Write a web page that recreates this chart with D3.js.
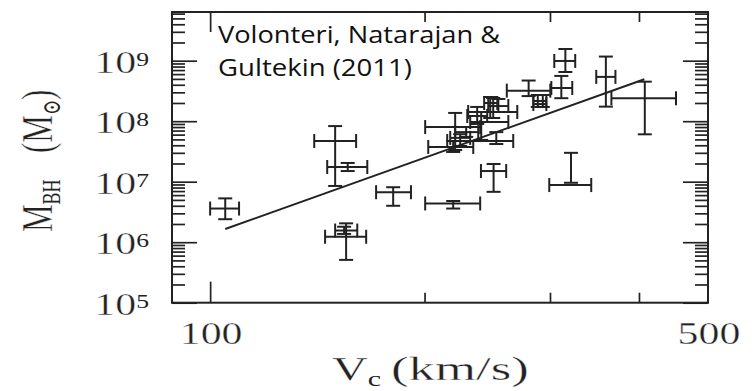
<!DOCTYPE html>
<html>
<head>
<meta charset="utf-8">
<script src="https://cdn.jsdelivr.net/npm/d3@7"></script>
<style>
  html, body { margin: 0; padding: 0; background: #fff; }
  svg { display: block; }
  .math { stroke: #fff; stroke-width: 0.35px; paint-order: normal; }
  .math tspan.sub { stroke: none; }
</style>
</head>
<body>
<div id="chart"></div>
<script>
// ── Data ─────────────────────────────────────────────────────────────────
// circular velocity (km/s): centre, low end, high end of the error bar
const vc   = [105.0, 149.8, 156.0, 155.2, 154.2, 180.7, 219.4, 250.0, 321.1, 315.3, 311.2, 359.4, 407.6,
              280.0, 288.4, 293.1, 220.8, 219.4, 240.2, 228.8, 249.7, 252.2, 247.3, 253.9, 224.4, 237.1];
const vcLo = [100.0, 140.0, 146.0, 145.0, 149.8, 171.0, 200.4, 240.0, 299.3, 304.2, 301.3, 348.4, 365.9,
              260.9, 284.3, 284.3, 200.4, 202.4, 231.8, 220.8, 230.3, 215.2, 242.5, 245.7, 217.3, 229.6];
const vcHi = [109.8, 160.3, 166.2, 165.6, 160.9, 191.4, 239.4, 260.4, 342.8, 325.5, 322.4, 370.7, 450.9,
              300.3, 296.5, 296.5, 239.4, 234.1, 262.2, 237.9, 269.9, 266.4, 253.0, 262.2, 231.8, 244.9];
// black hole mass (solar masses): centre, lower end, upper end
const mbh   = [3.6e6, 4.7e7, 1.75e7, 1.23e6, 1.56e6, 6.7e6, 4.37e6, 1.5e7, 8.8e6, 9.9e8, 3.54e8, 5.4e8, 2.39e8,
               3.2e8, 2.16e8, 1.92e8, 8.0e7, 3.75e7, 9.7e7, 6.6e7, 1.42e8, 4.7e7, 2.0e8, 1.78e8, 5.3e7, 1.22e8];
const mbhLo = [2.4e6, 8.5e6, 1.5e7, 5.1e5, 1.37e6, 4.0e6, 3.6e6, 6.8e6, 9.6e6, 6.5e8, 2.4e8, 1.74e8, 6.07e7,
               2.6e8, 1.72e8, 1.72e8, 3.34e7, 3.1e7, 4.9e7, 5.5e7, 1.13e8, 4.2e7, 1.13e8, 1.42e8, 3.9e7, 9.0e7];
const mbhHi = [5.3e6, 8.3e7, 2.04e7, 2.05e6, 1.8e6, 8.1e6, 4.8e6, 1.96e7, 3.0e7, 1.56e9, 5.6e8, 1.17e9, 4.5e8,
               4.7e8, 2.71e8, 2.71e8, 1.37e8, 4.7e7, 1.42e8, 8.0e7, 2.42e8, 6.6e7, 2.51e8, 2.33e8, 6.1e7, 1.72e8];

// fitted relation, end points
const fitVc  = [105, 407];
const fitMbh = [1.65e6, 4.93e8];

// axes
const xDomain     = [88.4, 500];
const yDomain     = [1e5, 6.38e9];
const xMajorTicks = [100];
const xMinorTicks = [200, 300, 400];
const xLabels     = [100, 500];
const yMajorTicks = [1e5, 1e6, 1e7, 1e8, 1e9];
const yExponents  = ["5", "6", "7", "8", "9"];

const credit = ["Volonteri, Natarajan &", "Gultekin (2011)"];

// ── Layout ───────────────────────────────────────────────────────────────
const W = 754, H = 391;
const pl = 172, pr = 708, pt = 12, pb = 302.7;
const ink = "#222";
const serif = '"Liberation Serif", "DejaVu Serif", serif';
const stretch = 1.35;   // the original figure is stretched sideways

const x = d3.scaleLog().domain(xDomain).range([pl, pr]);
const y = d3.scaleLog().domain(yDomain).range([pb, pt]);

const svg = d3.select("#chart").append("svg")
  .attr("width", W).attr("height", H)
  .style("background", "#fff");

// minor y ticks: 2..9 x 10^n inside the domain
const yMinorTicks = [];
for (let e = 5; e <= 9; e++) {
  for (let k = 2; k <= 9; k++) {
    const v = k * Math.pow(10, e);
    if (v < yDomain[1]) yMinorTicks.push(v);
  }
}

function ticks(axisFn, scale, vals, size, tx, ty) {
  svg.append("g")
    .attr("transform", `translate(${tx},${ty})`)
    .call(axisFn(scale).tickValues(vals).tickSize(-size).tickFormat(""))
    .call(a => a.select(".domain").remove())
    .call(a => a.selectAll("line").attr("stroke", ink).attr("stroke-width", 1.7));
}

ticks(d3.axisLeft,   y, yMajorTicks, 25, pl, 0);
ticks(d3.axisLeft,   y, yMinorTicks, 13, pl, 0);
ticks(d3.axisRight,  y, yMajorTicks, 25, pr, 0);
ticks(d3.axisRight,  y, yMinorTicks, 13, pr, 0);
ticks(d3.axisBottom, x, xMajorTicks, 21, 0, pb);
ticks(d3.axisBottom, x, xMinorTicks, 10, 0, pb);
ticks(d3.axisTop,    x, xMajorTicks, 20, 0, pt);
ticks(d3.axisTop,    x, xMinorTicks, 10, 0, pt);

// frame
svg.append("rect")
  .attr("x", pl).attr("y", pt).attr("width", pr - pl).attr("height", pb - pt)
  .attr("fill", "none").attr("stroke", ink).attr("stroke-width", 2);

// ── Tick labels ──────────────────────────────────────────────────────────
yMajorTicks.forEach((v, i) => {
  const t = svg.append("text").attr("class", "math")
    .attr("transform", `translate(149,${y(v) + 12}) scale(${stretch},1)`)
    .attr("text-anchor", "end")
    .attr("font-family", serif).attr("font-size", 31).attr("fill", ink);
  t.append("tspan").text("10");
  t.append("tspan").attr("class", "sub").attr("font-size", 19).attr("dy", -7).text(yExponents[i]);
});

xLabels.forEach(v => {
  svg.append("text").attr("class", "math")
    .attr("transform", `translate(${x(v) + 1},344) scale(${stretch},1)`)
    .attr("text-anchor", "middle")
    .attr("font-family", serif).attr("font-size", 31).attr("fill", ink)
    .text(v);
});

// ── Axis titles ──────────────────────────────────────────────────────────
const xt = svg.append("text").attr("class", "math")
  .attr("transform", `translate(332,380) scale(1.5,1)`)
  .attr("font-family", serif).attr("font-size", 33).attr("fill", ink);
xt.append("tspan").text("V");
xt.append("tspan").attr("class", "sub").attr("font-size", 20).attr("dy", 6).text("c");

svg.append("text").attr("class", "math")
  .attr("transform", `translate(391,380) scale(1.6,1)`)
  .attr("font-family", serif).attr("font-size", 33).attr("fill", ink)
  .text("(km/s)");

const yt1 = svg.append("text").attr("class", "math")
  .attr("transform", `translate(52,232) scale(1.4,1) rotate(-90)`)
  .attr("font-family", serif).attr("font-size", 31).attr("fill", ink);
yt1.append("tspan").text("M");
yt1.append("tspan").attr("class", "sub").attr("font-size", 18).attr("dy", 6).text("BH");

const yt2 = svg.append("text").attr("class", "math")
  .attr("transform", `translate(52,153) scale(1.4,1) rotate(-90)`)
  .attr("font-family", serif).attr("font-size", 31).attr("fill", ink);
yt2.append("tspan").text("(M");
yt2.append("tspan").attr("class", "sub").attr("font-size", 18).attr("dy", 6).text("⊙");
yt2.append("tspan").attr("dy", -6).text(")");

// ── Credit ───────────────────────────────────────────────────────────────
svg.append("text")
  .attr("x", 218).attr("y", 43)
  .attr("font-family", '"Open Sans", sans-serif').attr("font-size", 23).attr("fill", "#111")
  .attr("textLength", 282).attr("lengthAdjust", "spacingAndGlyphs")
  .text(credit[0]);
svg.append("text")
  .attr("x", 218).attr("y", 76)
  .attr("font-family", '"Open Sans", sans-serif').attr("font-size", 23).attr("fill", "#111")
  .attr("textLength", 194).attr("lengthAdjust", "spacingAndGlyphs")
  .text(credit[1]);

// ── Fit line ─────────────────────────────────────────────────────────────
svg.append("path")
  .datum(d3.range(fitVc.length))
  .attr("d", d3.line().x(i => x(fitVc[i])).y(i => y(fitMbh[i])))
  .attr("fill", "none").attr("stroke", ink).attr("stroke-width", 2);

// ── Error bars ───────────────────────────────────────────────────────────
const cap = 7;
const idx = d3.range(vc.length);
const bars = svg.append("g").attr("stroke", ink).attr("stroke-width", 2).attr("fill", "none");

bars.selectAll(".vbar").data(idx).join("line").attr("class", "vbar")
  .attr("x1", i => x(vc[i])).attr("x2", i => x(vc[i]))
  .attr("y1", i => y(mbhHi[i])).attr("y2", i => y(mbhLo[i]));
bars.selectAll(".hbar").data(idx).join("line").attr("class", "hbar")
  .attr("x1", i => x(vcLo[i])).attr("x2", i => x(vcHi[i]))
  .attr("y1", i => y(mbh[i])).attr("y2", i => y(mbh[i]));

[mbhLo, mbhHi].forEach((arr, k) => {
  bars.selectAll(`.ycap${k}`).data(idx).join("line").attr("class", `ycap${k}`)
    .attr("x1", i => x(vc[i]) - cap).attr("x2", i => x(vc[i]) + cap)
    .attr("y1", i => y(arr[i])).attr("y2", i => y(arr[i]));
});
[vcLo, vcHi].forEach((arr, k) => {
  bars.selectAll(`.xcap${k}`).data(idx).join("line").attr("class", `xcap${k}`)
    .attr("x1", i => x(arr[i])).attr("x2", i => x(arr[i]))
    .attr("y1", i => y(mbh[i]) - cap).attr("y2", i => y(mbh[i]) + cap);
});
</script>
</body>
</html>
